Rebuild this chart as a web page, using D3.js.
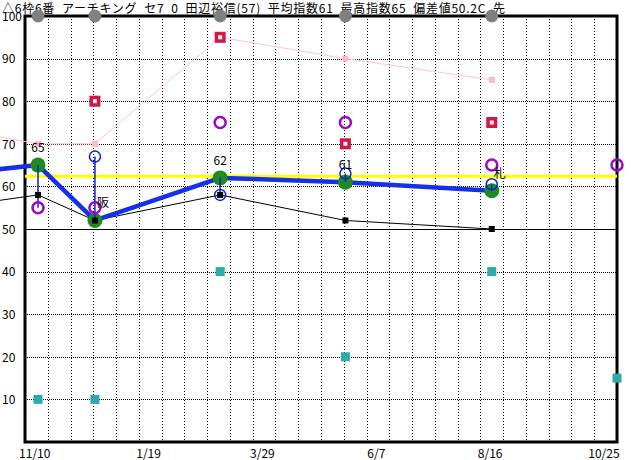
<!DOCTYPE html>
<meta charset="utf-8">
<style>

body {
  margin: 0;
  background: #fff;
}

svg {
  display: block;
  font-family: "Noto Sans CJK JP", "DejaVu Sans", sans-serif;
}

.grid line {
  stroke: #000;
  stroke-width: 1;
  stroke-dasharray: 1,2;
  shape-rendering: crispEdges;
}

.grid line.h {
  stroke-dasharray: 1,1;
}

.grid line.solid {
  stroke-dasharray: none;
}

.frame {
  fill: none;
  stroke: #000;
  stroke-width: 3;
}

.tick-label {
  font-size: 12px;
  fill: #000;
}

.title {
  font-size: 12px;
  white-space: pre;
}

</style>
<svg width="632" height="460"></svg>
<script src="https://d3js.org/d3.v7.min.js"></script>
<script>

var parse = d3.timeParse("%Y-%m-%d");

// race dates (first one is the previous race off the left edge, last one is next race)
var raceDates = ["2019-10-06", "2019-11-12", "2019-12-17", "2020-03-03", "2020-05-19", "2020-08-17", "2020-11-02"];

var indexValues  = [63.5, 65, 52, 62, 61, 59, null];
var blueValues   = [null, 55, 67, 58, 63, 60.5, null];
var blackValues  = [56, 58, 52, 58, 52, 50, null];
var pinkValues   = [72.5, 70, 70, 95, 90, 85, null];
var redValues    = [null, 65, 80, 95, 70, 75, null];
var purpleValues = [null, 55, 55, 75, 75, 65, 65];
var tealValues   = [null, 10, 10, 40, 20, 40, 15];
var grayValues   = [null, 100, 100, 100, 100, 100, null];
var pointLabels  = [null, "65", "阪", "62", "61", "札", null];
var averageLine  = 62.4;

var xTicks = ["2019-11-10", "2020-01-19", "2020-03-29", "2020-06-07", "2020-08-16", "2020-10-25"];
var yTicks = [10, 20, 30, 40, 50, 60, 70, 80, 90, 100];
var title = "△6枠6番  アーチキング  セ7  0  田辺裕信(57)  平均指数61  最高指数65  偏差値50.2C  先";

var svg = d3.select("svg");
var start = parse("2019-11-04"), end = parse("2020-11-02");

var x = d3.scaleTime().domain([start, end]).range([25, 617]);
var y = d3.scaleLinear().domain([0, 100]).range([442, 16]);

function series(vals) {
  return raceDates.map(function(d, i) { return {date: parse(d), v: vals[i]}; })
    .filter(function(d) { return d.v != null; });
}

// grid
var grid = svg.append("g").attr("class", "grid");
var gridDates = d3.range(1, 26).map(function(i) { return d3.timeDay.offset(start, i * 14); });
grid.selectAll("line.v").data(gridDates).enter().append("line")
    .attr("class", "v")
    .attr("x1", function(d) { return Math.round(x(d)) + 0.5; })
    .attr("x2", function(d) { return Math.round(x(d)) + 0.5; })
    .attr("y1", y(100)).attr("y2", y(0));
grid.selectAll("line.h").data(yTicks.filter(function(v) { return v < 100; })).enter().append("line")
    .attr("class", function(d) { return d == 50 ? "h solid" : "h"; })
    .attr("x1", x(start)).attr("x2", x(end))
    .attr("y1", function(d) { return Math.round(y(d)) + 0.5; })
    .attr("y2", function(d) { return Math.round(y(d)) + 0.5; });

svg.append("rect").attr("class", "frame")
    .attr("x", x(start)).attr("y", y(100))
    .attr("width", x(end) - x(start)).attr("height", y(0) - y(100));

// axis labels
svg.append("g").selectAll("text").data(yTicks).enter().append("text")
    .attr("class", "tick-label")
    .attr("x", 2)
    .attr("y", function(d) { return y(d); })
    .attr("dy", "0.4em")
    .text(function(d) { return d; });

svg.append("g").selectAll("text").data(xTicks).enter().append("text")
    .attr("class", "tick-label")
    .attr("x", function(d) { return x(parse(d)); })
    .attr("y", 458)
    .attr("text-anchor", "middle")
    .text(function(d) { return d3.timeFormat("%-m/%-d")(parse(d)); });

svg.append("text")
    .attr("class", "title")
    .attr("x", 2).attr("y", 13)
    .attr("textLength", 503)
    .attr("lengthAdjust", "spacing")
    .text(title);

// average line
svg.append("line")
    .attr("x1", x(start)).attr("x2", x(end))
    .attr("y1", y(averageLine)).attr("y2", y(averageLine))
    .attr("stroke", "#ffff00").attr("stroke-width", 3);

var line = d3.line()
    .x(function(d) { return x(d.date); })
    .y(function(d) { return y(d.v); });

function squares(data, size, fill) {
  svg.append("g").selectAll("rect").data(data).enter().append("rect")
      .attr("x", function(d) { return x(d.date) - size / 2; })
      .attr("y", function(d) { return y(d.v) - size / 2; })
      .attr("width", size).attr("height", size)
      .attr("fill", fill);
}

// pink line
svg.append("path").datum(series(pinkValues))
    .attr("fill", "none").attr("stroke", "#ffc4cf").attr("stroke-width", 1)
    .attr("d", line);
squares(series(pinkValues), 6, "#ffb8c6");

// black line
svg.append("path").datum(series(blackValues))
    .attr("fill", "none").attr("stroke", "#000").attr("stroke-width", 1)
    .attr("d", line);

// red squares
var red = series(redValues);
squares(red, 11, "#d0174a");
squares(red, 4, "#fff0f0");

// index line
svg.append("path").datum(series(indexValues))
    .attr("fill", "none").attr("stroke", "#1430e8").attr("stroke-width", 4.5)
    .attr("stroke-linejoin", "round")
    .attr("d", line);

var idx = series(indexValues).slice(1);
svg.append("g").selectAll("circle").data(idx).enter().append("circle")
    .attr("cx", function(d) { return x(d.date); })
    .attr("cy", function(d) { return y(d.v); })
    .attr("r", 7.5)
    .attr("fill", "#1f8a1f");

// blue range lines and circles
var blue = raceDates.map(function(d, i) { return {date: parse(d), v: blueValues[i], idx: indexValues[i]}; })
    .filter(function(d) { return d.v != null; });
svg.append("g").selectAll("line").data(blue).enter().append("line")
    .attr("x1", function(d) { return x(d.date); })
    .attr("x2", function(d) { return x(d.date); })
    .attr("y1", function(d) { return y(d.v); })
    .attr("y2", function(d) { return y(d.idx); })
    .attr("stroke", "#1020d0").attr("stroke-width", 1.5);
svg.append("g").selectAll("circle").data(blue).enter().append("circle")
    .attr("cx", function(d) { return x(d.date); })
    .attr("cy", function(d) { return y(d.v); })
    .attr("r", 5.5)
    .attr("fill", "none").attr("stroke", "#1020d0").attr("stroke-width", 1.5);

squares(series(blackValues).slice(1), 6, "#000");

// purple circles
svg.append("g").selectAll("circle").data(series(purpleValues)).enter().append("circle")
    .attr("cx", function(d) { return x(d.date); })
    .attr("cy", function(d) { return y(d.v); })
    .attr("r", 5.5)
    .attr("fill", "none").attr("stroke", "#9a08c8").attr("stroke-width", 2.5);

squares(series(tealValues), 9, "#2eaaa8");

// gray circles on top
svg.append("g").selectAll("circle").data(series(grayValues)).enter().append("circle")
    .attr("cx", function(d) { return x(d.date); })
    .attr("cy", function(d) { return y(d.v); })
    .attr("r", 6.5)
    .attr("fill", "#808080");

// labels above index points
var labels = raceDates.map(function(d, i) { return {date: parse(d), v: indexValues[i], t: pointLabels[i]}; })
    .filter(function(d) { return d.t != null; });
svg.append("g").selectAll("text").data(labels).enter().append("text")
    .attr("class", "tick-label")
    .attr("x", function(d) { return isNaN(+d.t) ? x(d.date) + 2 : x(d.date); })
    .attr("y", function(d) { return y(d.v) - 13; })
    .attr("text-anchor", function(d) { return isNaN(+d.t) ? "start" : "middle"; })
    .text(function(d) { return d.t; });

</script>
